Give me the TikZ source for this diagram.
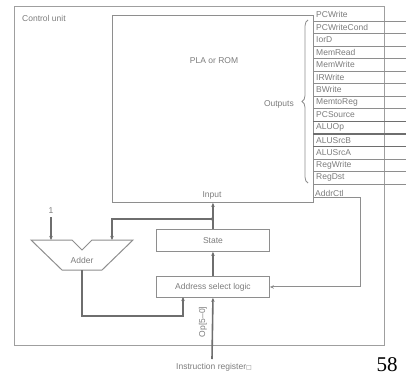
\documentclass[tikz,border=0pt]{standalone}
\usepackage{fontspec}
\setmainfont{Liberation Sans}
\newfontfamily\serifnum{Liberation Serif}
\newfontfamily\symfont{DejaVu Sans}
\usetikzlibrary{arrows.meta,decorations.pathreplacing}
\definecolor{ln}{HTML}{8E8E8E}
\definecolor{dk}{HTML}{6E6E6E}
\definecolor{tx}{HTML}{7C7C7C}
\begin{document}
\begin{tikzpicture}[x=1pt,y=-1pt,
  lbl/.style={text=tx,font=\fontsize{8.5}{10}\selectfont,inner sep=0pt},
  box/.style={draw=ln,line width=0.9pt,inner sep=0pt,anchor=north west},
  wire/.style={draw=ln,line width=1pt},
  fat/.style={draw=dk,line width=1.6pt},
  arr/.style={-{Stealth[length=4pt,width=3.5pt]}},
]
\useasboundingbox (0,0) rectangle (406,375);
% outer control unit
\node[box,draw=ln!85,line width=1.3pt,minimum width=370pt,minimum height=339pt] (cu) at (14,6) {};
\node[lbl,anchor=west] (cutxt) at (22,18) {Control unit};
% PLA
\node[box,minimum width=201pt,minimum height=187pt] (pla) at (112,15) {};
\node[lbl] (platxt) at (214,61) {PLA or ROM};
\node[lbl] (input) at (212,195) {Input};
% signals
\foreach \s [count=\i from 0] in {PCWrite,PCWriteCond,IorD,MemRead,MemWrite,IRWrite,BWrite,MemtoReg,PCSource,ALUOp,ALUSrcB,ALUSrcA,RegWrite,RegDst}{
  \node[lbl,anchor=west] (sig\i) at (316,{14.7+12.54*\i}) {\s};
  \coordinate (sl\i) at (313,{21+12.54*\i});
  \coordinate (sr\i) at (406,{21+12.54*\i});
}
\foreach \i in {0,...,7,11,12,13}{ \draw[wire,line width=0.8pt] (sl\i) -- (sr\i); }
\foreach \i in {8,9,10}{ \draw[fat,line width=1.4pt] (sl\i) -- (sr\i); }
\node[lbl,anchor=west] (addrctl) at (315,193) {AddrCtl};
% brace
\coordinate (bb) at (308,183);
\coordinate (bt) at (308,20);
\draw[ln,line width=0.8pt,decorate,decoration={brace,amplitude=6pt}] (bb) -- (bt);
\node[lbl,anchor=east] (outputs) at (294,104) {Outputs};
% state and address select logic
\node[box,minimum width=113pt,minimum height=22pt] (state) at (156,229) {};
\node[lbl] (statetxt) at (state.center) {State};
\node[box,minimum width=113pt,minimum height=21pt] (asl) at (156,276) {};
\node[lbl] (asltxt) at (asl.center) {Address select logic};
% adder
\coordinate (ad1) at (51,240);
\coordinate (ad2) at (112,240);
\coordinate (adout) at (82,270);
\draw[ln,line width=1pt] (31,240) -- (72,240) -- (82,250) -- (92,240) -- (133,240) -- (102,270) -- (62,270) -- cycle;
\node[lbl] (adder) at (82,260) {Adder};
\node[lbl] (one) at (51,211) {1};
\draw[fat,line width=1.2pt,arr] (one.south) ++(0,3) -- (ad1);
% wires
\coordinate (acs) at (313,197);
\coordinate (acc) at (360,197);
\draw[wire,arr] (acs) -- (acc) |- (asl.east);
\draw[fat,arr] (asl.north) -- (state.south);
\draw[fat,arr] (state.north) -- (pla.south);
\coordinate (jn) at (212,219);
\fill[dk] (jn) circle (1.6pt);
\draw[fat,arr] (jn) -| (ad2);
\coordinate (aslin) at (183,297);
\draw[fat,arr] (adout) -- ++(0,46) -| (aslin);
\coordinate (ir) at (212,359);
\draw[fat,arr] (ir) -- (asl.south);
\node[lbl,rotate=90] (op) at (203,322) {Op[5–0]};
\node[lbl] (irtxt) at (214,367) {Instruction register{\symfont\fontsize{6}{7}\selectfont □}};
\node[inner sep=0pt,font=\serifnum\fontsize{21}{22}\selectfont] (pg) at (387,365) {58};
\end{tikzpicture}
\end{document}
